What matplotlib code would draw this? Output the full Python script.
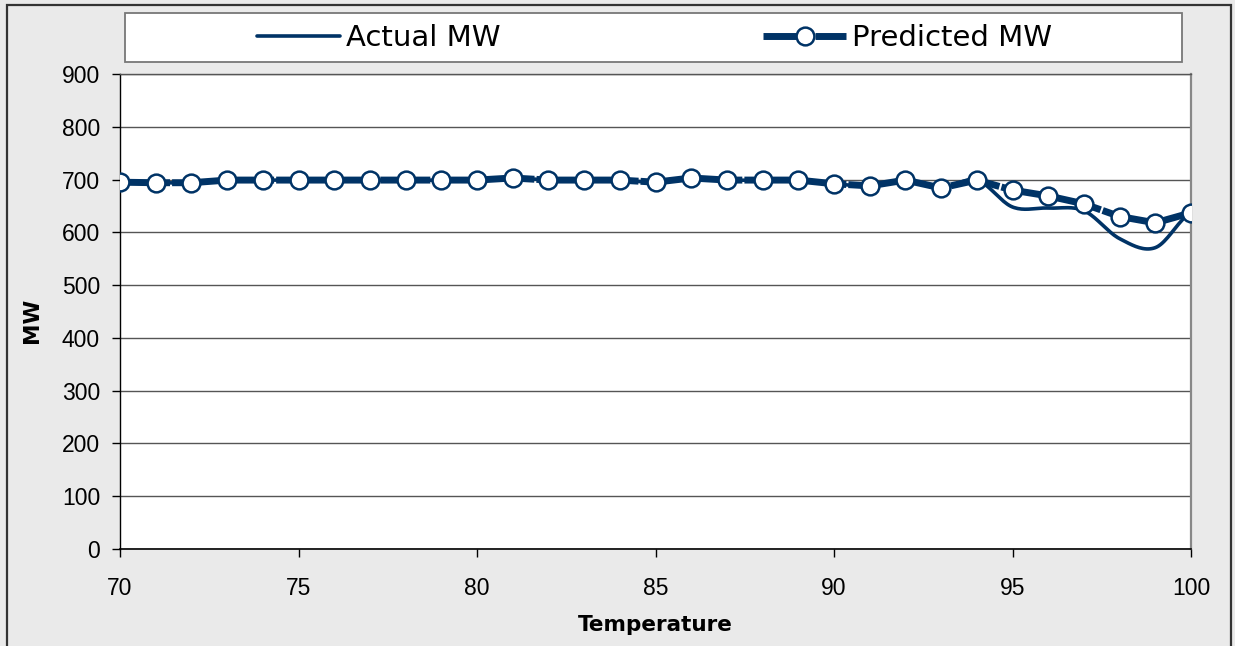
import numpy as np
import matplotlib
matplotlib.use("Agg")
import matplotlib.pyplot as plt
from matplotlib.patches import Rectangle

# ---- data ----
temperature = [70, 71, 72, 73, 74, 75, 76, 77, 78, 79, 80, 81, 82, 83, 84, 85,
               86, 87, 88, 89, 90, 91, 92, 93, 94, 95, 96, 97, 98, 99, 100]
predicted_mw = [695, 694, 694, 699, 699, 699, 699, 699, 699, 699, 699, 703, 699, 699, 699, 695,
                703, 699, 699, 699, 692, 688, 699, 684, 699, 680, 669, 654, 630, 618, 637]
actual_mw = [695, 694, 694, 699, 699, 699, 699, 699, 699, 699, 699, 703, 699, 699, 699, 695,
             703, 699, 699, 699, 692, 688, 699, 684, 699, 648, 646, 641, 588, 571, 637]
y_ticks = [0, 100, 200, 300, 400, 500, 600, 700, 800, 900]
x_ticks = [70, 75, 80, 85, 90, 95, 100]

NAVY = "#003366"
BG = "#EAEAEA"
W, H = 1235, 646


def smooth(x, y, n=20):
    """Catmull-Rom style smoothing used only for drawing (like Excel's smoothed line)."""
    x = np.asarray(x, float)
    y = np.asarray(y, float)
    px = np.concatenate([[2 * x[0] - x[1]], x, [2 * x[-1] - x[-2]]])
    py = np.concatenate([[y[0]], y, [y[-1]]])
    xs, ys = [], []
    for i in range(1, len(px) - 2):
        t = np.linspace(0, 1, n, endpoint=False)
        for arr, out in ((px, xs), (py, ys)):
            p0, p1, p2, p3 = arr[i - 1], arr[i], arr[i + 1], arr[i + 2]
            out.extend(0.5 * ((2 * p1) + (-p0 + p2) * t
                              + (2 * p0 - 5 * p1 + 4 * p2 - p3) * t ** 2
                              + (-p0 + 3 * p1 - 3 * p2 + p3) * t ** 3))
    xs.append(x[-1])
    ys.append(y[-1])
    return np.array(xs), np.array(ys)


plt.rcParams['lines.scale_dashes'] = False
fig = plt.figure(figsize=(W / 100, H / 100), dpi=100)
fig.patch.set_facecolor(BG)

# outer border
fig.patches.append(Rectangle((7 / W, -0.05), (1231 - 7) / W, 1 - 5 / H + 0.05,
                             transform=fig.transFigure, fill=False,
                             edgecolor="#333333", lw=1.6, zorder=0))

# legend box
fig.patches.append(Rectangle((125 / W, 1 - 62 / H), (1182 - 125) / W, (62 - 13) / H,
                             transform=fig.transFigure, facecolor="white",
                             edgecolor="#777777", lw=1.3, zorder=1))

ax = fig.add_axes([120 / W, (H - 549) / H, (1191 - 120) / W, (549 - 74) / H])
ax.set_facecolor("white")

sx, sy = smooth(temperature, actual_mw)
l_act, = ax.plot(sx, sy, color=NAVY, lw=2.6, solid_capstyle='round', zorder=3,
                 label="Actual MW")
l_pred, = ax.plot(temperature, predicted_mw, color=NAVY, lw=5.0,
                  dashes=(36, 1.5), marker='o', markersize=12.8,
                  markerfacecolor='white', markeredgecolor=NAVY,
                  markeredgewidth=1.8, zorder=4, label="Predicted MW")

ax.set_xlim(70, 100)
ax.set_ylim(0, 900)
ax.set_xticks(x_ticks)
ax.set_yticks(y_ticks)
ax.set_xticklabels([str(v) for v in x_ticks], fontfamily="Liberation Sans", fontsize=16.5)
ax.set_yticklabels([str(v) for v in y_ticks], fontfamily="Liberation Sans", fontsize=16.5)
ax.tick_params(axis='x', direction='out', length=5.8, width=1, pad=14.4, color='black')
ax.tick_params(axis='y', direction='out', length=5.8, width=1, pad=8.6, color='black')

ax.grid(axis='y', color="#555555", lw=1.0)
ax.set_axisbelow(True)
ax.spines['left'].set_color('black')
ax.spines['bottom'].set_color('black')
ax.spines['left'].set_linewidth(1.0)
ax.spines['bottom'].set_linewidth(1.2)
ax.spines['right'].set_color('#888888')
ax.spines['right'].set_linewidth(1.6)
ax.spines['top'].set_color('#555555')
ax.spines['top'].set_linewidth(1.0)

fig.text(655 / W, 1 - 631 / H, "Temperature", ha='center', va='baseline',
         fontfamily="DejaVu Sans", fontweight='bold', fontsize=15.5)
fig.text(32 / W, 1 - 320 / H, "MW", ha='center', va='center', rotation=90,
         fontfamily="DejaVu Sans", fontweight='bold', fontsize=15.5)

leg = fig.legend(handles=[l_act, l_pred], ncol=2, loc='center left',
                 bbox_to_anchor=(257 / W, 1 - 38 / H), frameon=False,
                 prop={'family': 'DejaVu Sans', 'size': 21},
                 handlelength=2.85, handletextpad=0.2, columnspacing=9.0,
                 borderpad=0, borderaxespad=0, numpoints=1)
leg.set_zorder(5)

fig.savefig("out.png", dpi=100, facecolor=fig.get_facecolor())
